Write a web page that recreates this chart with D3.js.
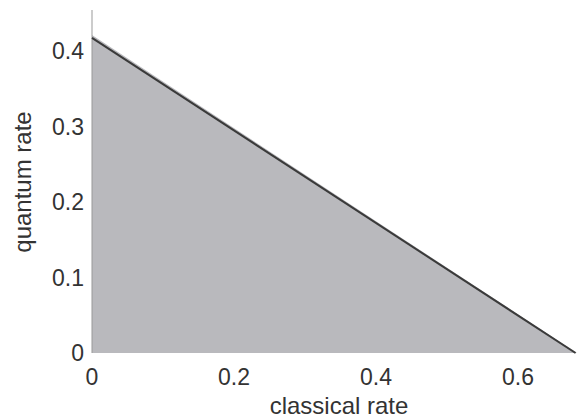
<!DOCTYPE html>
<html>
<head>
<meta charset="utf-8">
<script src="https://cdn.jsdelivr.net/npm/d3@7"></script>
<style>
  body { margin: 0; background: #fff; }
  text { font-family: "Liberation Sans", Arial, sans-serif; fill: #333; }
</style>
</head>
<body>
<div id="chart"></div>
<script>
// achievable region (classical rate, quantum rate)
let regionX = [0, 0, 0.683];
let regionY = [0, 0.422, 0];

// trade-off boundary line
let boundaryX = [0, 0.681];
let boundaryY = [0.418, 0];

let xTicks = [0, 0.2, 0.4, 0.6];
let yTicks = [0, 0.1, 0.2, 0.3, 0.4];

let width = 580, height = 420;

let svg = d3.select("#chart").append("svg")
	.attr("width", width)
	.attr("height", height);

// scales
let x = d3.scaleLinear().domain([0, 0.683]).range([92, 577]);
let y = d3.scaleLinear().domain([0, 0.455]).range([353, 10]);

let region = regionX.map((d, i) => [d, regionY[i]]);
let boundary = boundaryX.map((d, i) => [d, boundaryY[i]]);

let line = d3.line().x(d => x(d[0])).y(d => y(d[1]));

// shaded region
svg.append("path")
	.attr("d", line(region) + "Z")
	.attr("fill", "#b9b9bd");

// y axis line
svg.append("line")
	.attr("x1", x(0)).attr("x2", x(0))
	.attr("y1", y(0.455)).attr("y2", y(0))
	.attr("stroke", "#999")
	.attr("stroke-width", 1);

// boundary
svg.append("path")
	.attr("d", line(boundary))
	.attr("fill", "none")
	.attr("stroke", "#3a3a3a")
	.attr("stroke-width", 2);

// tick labels
svg.selectAll(".xt").data(xTicks).enter().append("text")
	.attr("x", d => x(d))
	.attr("y", 385)
	.attr("text-anchor", "middle")
	.attr("font-size", 23)
	.text(d => d3.format("")(d));

svg.selectAll(".yt").data(yTicks).enter().append("text")
	.attr("x", 84)
	.attr("y", d => y(d) + 8)
	.attr("text-anchor", "end")
	.attr("font-size", 23)
	.text(d => d3.format("")(d));

// axis titles
svg.append("text")
	.attr("x", 339).attr("y", 414)
	.attr("text-anchor", "middle")
	.attr("font-size", 24)
	.text("classical rate");

svg.append("text")
	.attr("transform", "translate(31,182) rotate(-90)")
	.attr("text-anchor", "middle")
	.attr("font-size", 24)
	.text("quantum rate");
</script>
</body>
</html>
